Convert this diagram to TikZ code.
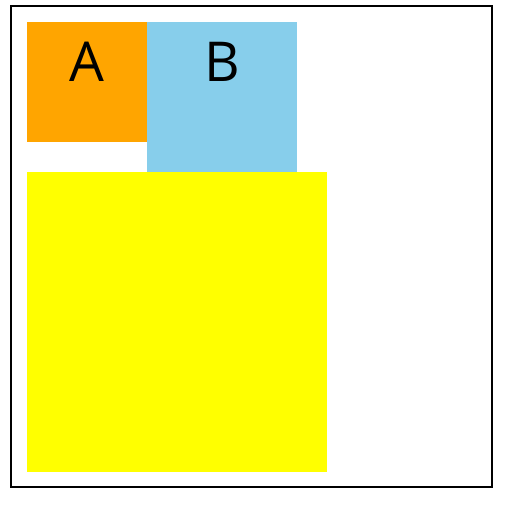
\documentclass[tikz,border=0pt]{standalone}
\usepackage{fontspec}
\setmainfont{Open Sans}
\begin{document}
\begin{tikzpicture}[x=1pt,y=-1pt,
  box/.style={draw=none,inner sep=0pt,outer sep=0pt},
  lbl/.style={inner sep=0pt,anchor=base,font=\fontsize{55}{60}\selectfont}]
\useasboundingbox (0,0) rectangle (521,505);
\draw[line width=2pt] (11,6) rectangle (492,487);
\fill[orange!100!red,fill={rgb,255:red,255;green,165;blue,0}] (27,22) rectangle (147,142);
\fill[fill={rgb,255:red,135;green,206;blue,235}] (147,22) rectangle (297,172);
\fill[fill={rgb,255:red,255;green,255;blue,0}] (27,172) rectangle (327,472);
\node[lbl] (a) at (87,82) {A};
\node[lbl] (b) at (222,82) {B};
\end{tikzpicture}
\end{document}
